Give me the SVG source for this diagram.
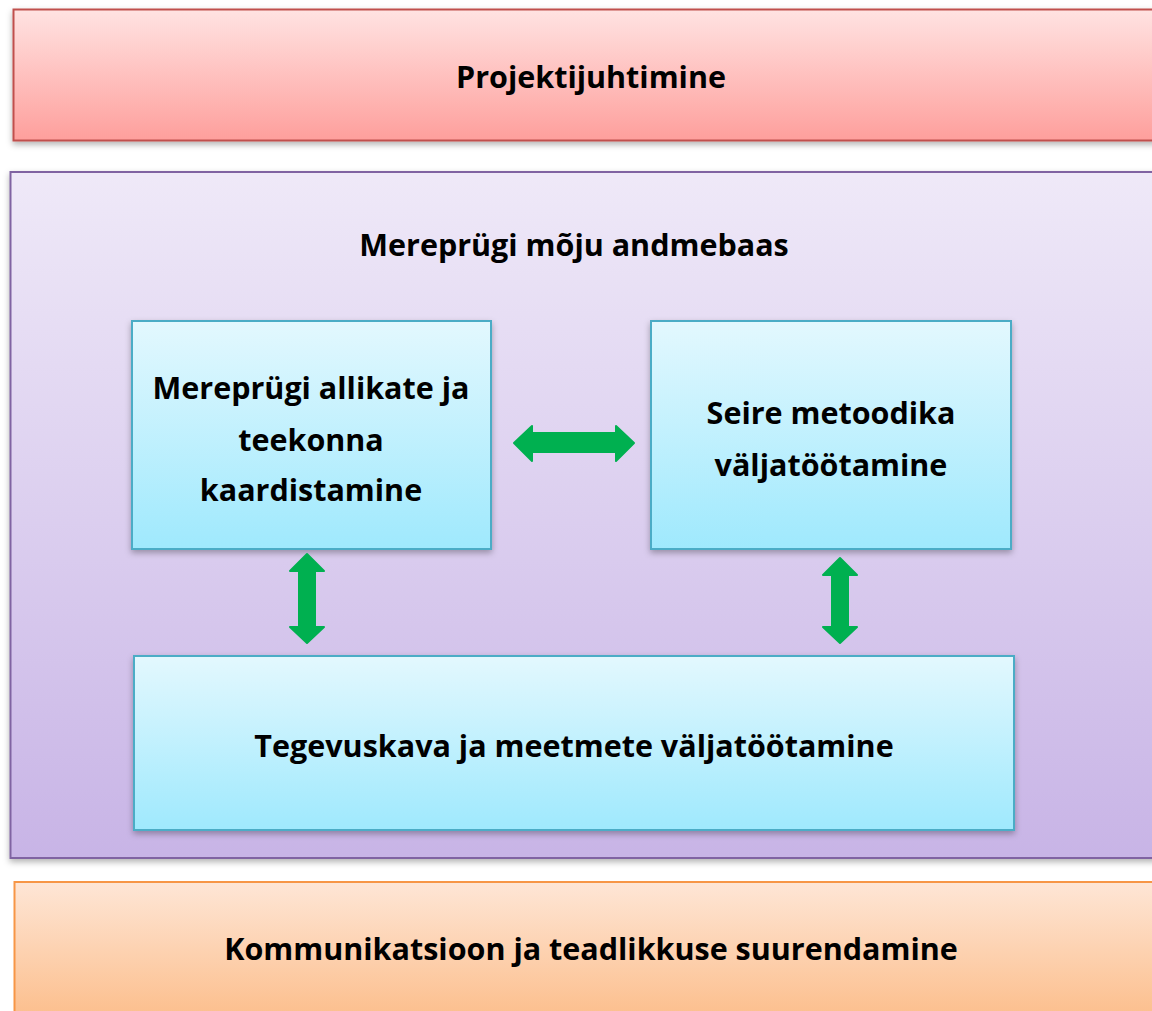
<svg xmlns="http://www.w3.org/2000/svg" width="1152" height="1011" viewBox="0 0 1152 1011">
<defs>
<linearGradient id="gRed" x1="0" y1="0" x2="0" y2="1"><stop offset="0" stop-color="#ffe3e2"/><stop offset="1" stop-color="#fe9f9c"/></linearGradient>
<linearGradient id="gPur" x1="0" y1="0" x2="0" y2="1"><stop offset="0" stop-color="#efe9f8"/><stop offset="1" stop-color="#c8b4e6"/></linearGradient>
<linearGradient id="gOr" x1="0" y1="0" x2="0" y2="1"><stop offset="0" stop-color="#fee6d6"/><stop offset="1" stop-color="#fcbd8a"/></linearGradient>
<linearGradient id="gCy" x1="0" y1="0" x2="0" y2="1"><stop offset="0" stop-color="#e3f8fe"/><stop offset="1" stop-color="#9fe9fd"/></linearGradient>
<filter id="sh" x="-5%" y="-5%" width="110%" height="115%"><feDropShadow dx="0" dy="3" stdDeviation="3" flood-color="#000" flood-opacity="0.3"/></filter>
</defs>
<style>
text{font-family:"Open Sans","Liberation Sans",sans-serif;font-weight:bold;font-size:30.5px;fill:#000;text-anchor:middle}
.cy{fill:url(#gCy);stroke:#4bacc6;stroke-width:2}
.arr{fill:#00b050;stroke:#00b050;stroke-width:2;stroke-linejoin:round}
</style>
<rect width="1152" height="1011" fill="#fff"/>
<g id="projektijuhtimine"><rect x="13.5" y="9.5" width="1150" height="131" fill="url(#gRed)" stroke="#c0504d" stroke-width="2" filter="url(#sh)"/><text x="591" y="88">Projektijuhtimine</text></g>
<g id="andmebaas"><rect x="10.5" y="172" width="1150" height="686" fill="url(#gPur)" stroke="#8064a2" stroke-width="2" filter="url(#sh)"/><text x="574" y="256">Mereprügi mõju andmebaas</text></g>
<g id="allikad"><rect class="cy" x="132" y="321" width="359" height="228" filter="url(#sh)"/><text x="311" y="399">Mereprügi allikate ja</text><text x="311" y="451">teekonna</text><text x="311" y="501">kaardistamine</text></g>
<g id="seire"><rect class="cy" x="651" y="321" width="360" height="228" filter="url(#sh)"/><text x="831" y="424">Seire metoodika</text><text x="831" y="476">väljatöötamine</text></g>
<g id="tegevuskava"><rect class="cy" x="134" y="656" width="880" height="174" filter="url(#sh)"/><text x="574" y="757">Tegevuskava ja meetmete väljatöötamine</text></g>
<g id="kommunikatsioon"><rect x="14.5" y="882" width="1150" height="140" fill="url(#gOr)" stroke="#f79646" stroke-width="2"/><text x="591" y="960">Kommunikatsioon ja teadlikkuse suurendamine</text></g>
<g id="connectors">
<path class="arr" d="M514,443 L532,426 L532,433 L616,433 L616,426 L634,443 L616,461 L616,452 L532,452 L532,461 Z"/>
<path class="arr" d="M307,554 L324,571 L315,571 L315,627 L324,627 L307,643 L290,627 L299,627 L299,571 L290,571 Z"/>
<path class="arr" d="M840,558 L857,575 L848,575 L848,627 L857,627 L840,643 L823,627 L832,627 L832,575 L823,575 Z"/>
</g>
</svg>
